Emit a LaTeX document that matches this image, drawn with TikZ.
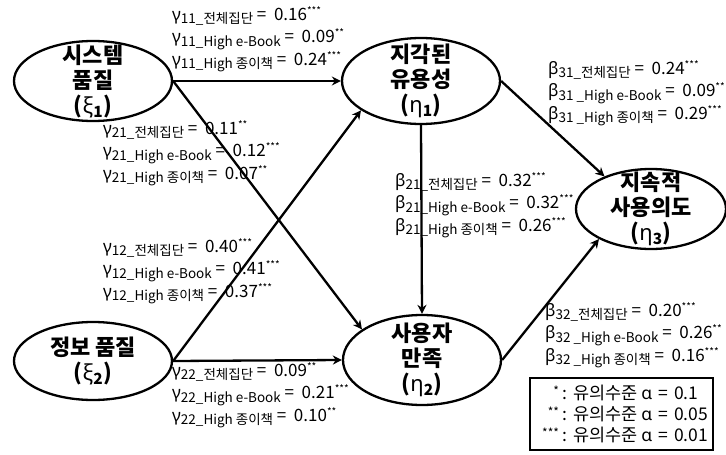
\documentclass[tikz,border=0pt]{standalone}
\usepackage{fontspec}
\setmainfont{Noto Sans CJK KR}
\newfontfamily\grk{Noto Sans}
\usepackage{tikz}
\usetikzlibrary{shapes.geometric, positioning, arrows.meta}
\tikzstyle{latent} = [ellipse, draw=black, line width=2.3pt, minimum width=158pt, minimum height=80pt, inner sep=-10pt, align=center, font=\fontsize{22}{25}\selectfont\bfseries]
\tikzstyle{coef} = [anchor=north west, inner sep=0pt, align=left, font=\fontsize{17}{22.5}\selectfont]
\tikzstyle{link} = [-{Stealth[length=9pt, width=9pt]}, line width=2.3pt]
\newcommand{\pcoef}[4]{{\grk #1}\raisebox{-3.5pt}{\fontsize{13.5}{13.5}\selectfont #2}\ =\ \ #3\raisebox{6pt}{\fontsize{10}{10}\selectfont #4}}
\newcommand{\sig}[1]{\makebox[24pt][r]{\raisebox{4pt}{\fontsize{12}{12}\selectfont #1}}\hspace{4pt}}
\newcommand{\eqs}{\hspace{6pt}=\hspace{6pt}}

\begin{document}
\begin{tikzpicture}[x=1pt, y=-1pt]
		\useasboundingbox (0,0) rectangle (726,455);
		\node (System)[latent] at (93,81) {시스템\\품질\\({\grk ξ}\textsubscript{1})};
		\node (Info)[latent, minimum height=78pt] at (93,361) {정보 품질\\({\grk ξ}\textsubscript{2})};
		\node (Useful)[latent, minimum height=86pt] at (421,81) {지각된\\유용성\\({\grk η}\textsubscript{1})};
		\node (Satis)[latent, minimum height=90pt] at (422,360) {사용자\\만족\\({\grk η}\textsubscript{2})};
		\node (Intent)[latent, minimum width=150pt, minimum height=80pt] at (651,209) {지속적\\사용의도\\({\grk η}\textsubscript{3})};
		\draw [link] (System.east) -- (Useful.west);
		\draw [link] (System.east) -- (Satis.153);
		\draw [link] (Info.east) -- (Useful.206);
		\draw [link] (Info.east) -- (Satis.west);
		\draw [link] (Useful.south) -- (Satis.north);
		\draw [link] (Useful.east) -- (Intent.145);
		\draw [link] (Satis.east) -- (Intent.210);
		% path coefficients
		\node (G11)[coef] at (172,6) {\pcoef{γ}{11\_전체집단}{0.16}{***}\\\pcoef{γ}{11\_High e-Book}{0.09}{**}\\\pcoef{γ}{11\_High 종이책}{0.24}{***}};
		\node (G21)[coef] at (103,120) {\pcoef{γ}{21\_전체집단}{0.11}{**}\\\pcoef{γ}{21\_High e-Book}{0.12}{***}\\\pcoef{γ}{21\_High 종이책}{0.07}{**}};
		\node (G12)[coef] at (103,238) {\pcoef{γ}{12\_전체집단}{0.40}{***}\\\pcoef{γ}{12\_High e-Book}{0.41}{***}\\\pcoef{γ}{12\_High 종이책}{0.37}{***}};
		\node (G22)[coef] at (172,362) {\pcoef{γ}{22\_전체집단}{0.09}{**}\\\pcoef{γ}{22\_High e-Book}{0.21}{***}\\\pcoef{γ}{22\_High 종이책}{0.10}{**}};
		\node (B31)[coef] at (548,60) {\pcoef{β}{31\_전체집단}{0.24}{***}\\\pcoef{β}{31 \_High e-Book}{0.09}{**}\\\pcoef{β}{31 \_High 종이책}{0.29}{***}};
		\node (B21)[coef] at (395,172) {\pcoef{β}{21\_전체집단}{0.32}{***}\\\pcoef{β}{21\_High e-Book}{0.32}{***}\\\pcoef{β}{21\_High 종이책}{0.26}{***}};
		\node (B32)[coef] at (545,302) {\pcoef{β}{32\_전체집단}{0.20}{***}\\\pcoef{β}{32 \_High e-Book}{0.26}{**}\\\pcoef{β}{32 \_High 종이책}{0.16}{***}};
		% significance levels
		\node (Legend)[draw=black, line width=1.3pt, minimum width=183pt, minimum height=72pt, inner sep=0pt, align=left, font=\fontsize{17.5}{21}\selectfont] at (621.5,414) {\sig{*}: 유의수준 {\grk α}\eqs 0.1\\\sig{**}: 유의수준 {\grk α}\eqs 0.05\\\sig{***}: 유의수준 {\grk α}\eqs 0.01};
	\end{tikzpicture}
\end{document}
